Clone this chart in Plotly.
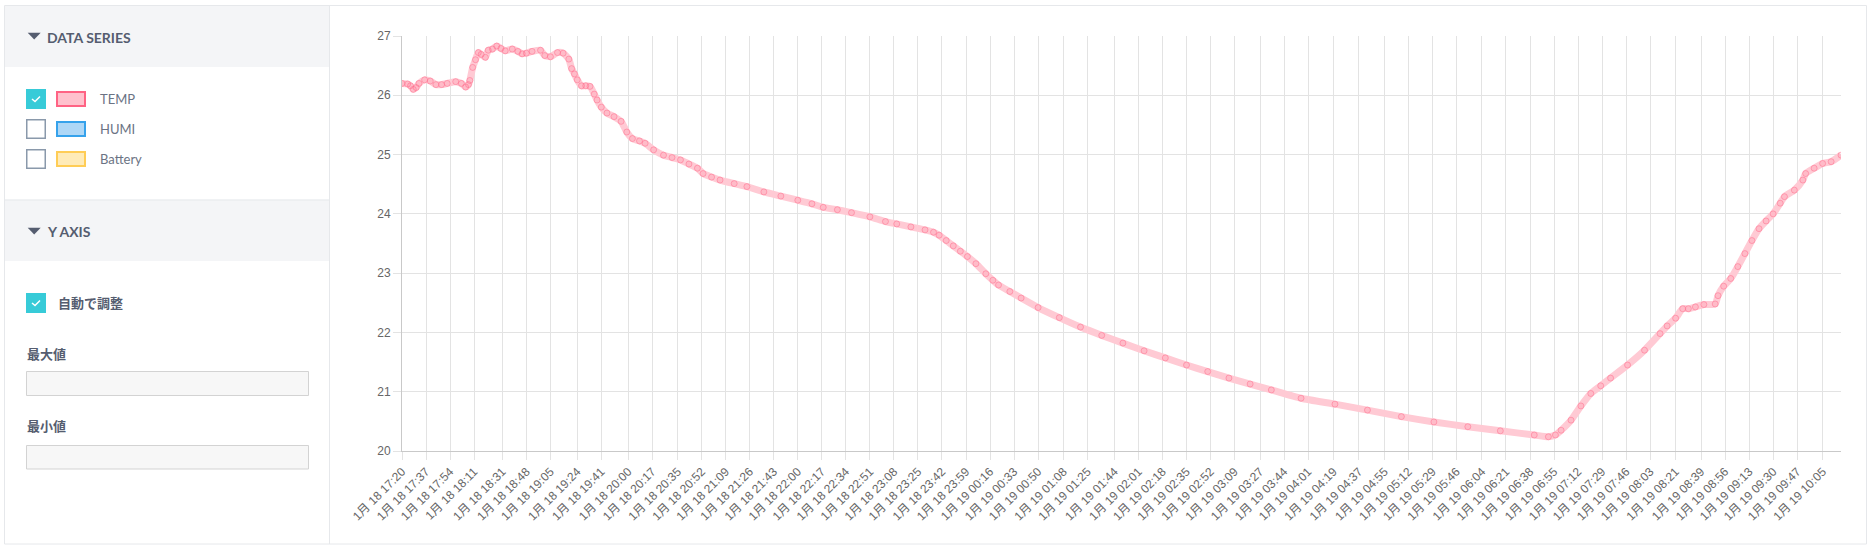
import pandas as pd
import plotly.graph_objects as go

# ---------------- data ----------------
TIMES = [
    "2024-01-18 17:20", "2024-01-18 17:24", "2024-01-18 17:26", "2024-01-18 17:28", "2024-01-18 17:30",
    "2024-01-18 17:32", "2024-01-18 17:36", "2024-01-18 17:40", "2024-01-18 17:44", "2024-01-18 17:48",
    "2024-01-18 17:52", "2024-01-18 17:58", "2024-01-18 18:02", "2024-01-18 18:05", "2024-01-18 18:07",
    "2024-01-18 18:08", "2024-01-18 18:10", "2024-01-18 18:12", "2024-01-18 18:14", "2024-01-18 18:16",
    "2024-01-18 18:19", "2024-01-18 18:21", "2024-01-18 18:24", "2024-01-18 18:27", "2024-01-18 18:30",
    "2024-01-18 18:33", "2024-01-18 18:38", "2024-01-18 18:42", "2024-01-18 18:45", "2024-01-18 18:48",
    "2024-01-18 18:52", "2024-01-18 18:58", "2024-01-18 19:01", "2024-01-18 19:05", "2024-01-18 19:10",
    "2024-01-18 19:14", "2024-01-18 19:18", "2024-01-18 19:20", "2024-01-18 19:22", "2024-01-18 19:24",
    "2024-01-18 19:27", "2024-01-18 19:30", "2024-01-18 19:33", "2024-01-18 19:36", "2024-01-18 19:38",
    "2024-01-18 19:41", "2024-01-18 19:45", "2024-01-18 19:50", "2024-01-18 19:55", "2024-01-18 19:59",
    "2024-01-18 20:03", "2024-01-18 20:08", "2024-01-18 20:12", "2024-01-18 20:18", "2024-01-18 20:25",
    "2024-01-18 20:31", "2024-01-18 20:37", "2024-01-18 20:43", "2024-01-18 20:49", "2024-01-18 20:53",
    "2024-01-18 20:59", "2024-01-18 21:05", "2024-01-18 21:15", "2024-01-18 21:24", "2024-01-18 21:36",
    "2024-01-18 21:48", "2024-01-18 22:00", "2024-01-18 22:10", "2024-01-18 22:18", "2024-01-18 22:28",
    "2024-01-18 22:38", "2024-01-18 22:51", "2024-01-18 23:02", "2024-01-18 23:10", "2024-01-18 23:20",
    "2024-01-18 23:30", "2024-01-18 23:36", "2024-01-18 23:40", "2024-01-18 23:45", "2024-01-18 23:50",
    "2024-01-18 23:55", "2024-01-19 00:00", "2024-01-19 00:06", "2024-01-19 00:13", "2024-01-19 00:18",
    "2024-01-19 00:22", "2024-01-19 00:30", "2024-01-19 00:38", "2024-01-19 00:50", "2024-01-19 01:05",
    "2024-01-19 01:20", "2024-01-19 01:35", "2024-01-19 01:50", "2024-01-19 02:05", "2024-01-19 02:20",
    "2024-01-19 02:35", "2024-01-19 02:50", "2024-01-19 03:05", "2024-01-19 03:20", "2024-01-19 03:35",
    "2024-01-19 03:56", "2024-01-19 04:20", "2024-01-19 04:43", "2024-01-19 05:07", "2024-01-19 05:30",
    "2024-01-19 05:54", "2024-01-19 06:17", "2024-01-19 06:41", "2024-01-19 06:51", "2024-01-19 06:56",
    "2024-01-19 07:00", "2024-01-19 07:07", "2024-01-19 07:14", "2024-01-19 07:21", "2024-01-19 07:28",
    "2024-01-19 07:35", "2024-01-19 07:47", "2024-01-19 07:59", "2024-01-19 08:10", "2024-01-19 08:15",
    "2024-01-19 08:21", "2024-01-19 08:26", "2024-01-19 08:30", "2024-01-19 08:35", "2024-01-19 08:41",
    "2024-01-19 08:49", "2024-01-19 08:51", "2024-01-19 08:55", "2024-01-19 09:00", "2024-01-19 09:05",
    "2024-01-19 09:10", "2024-01-19 09:15", "2024-01-19 09:20", "2024-01-19 09:25", "2024-01-19 09:30",
    "2024-01-19 09:35", "2024-01-19 09:38", "2024-01-19 09:45", "2024-01-19 09:51", "2024-01-19 09:53",
    "2024-01-19 09:59", "2024-01-19 10:05", "2024-01-19 10:11", "2024-01-19 10:18",
]
TEMP = [
    26.20, 26.19, 26.16, 26.10, 26.13,
    26.20, 26.26, 26.24, 26.18, 26.18,
    26.20, 26.23, 26.20, 26.14, 26.18,
    26.25, 26.47, 26.60, 26.72, 26.69,
    26.64, 26.76, 26.78, 26.83, 26.79,
    26.75, 26.78, 26.74, 26.70, 26.71,
    26.74, 26.76, 26.67, 26.65, 26.72,
    26.71, 26.61, 26.45, 26.36, 26.26,
    26.16, 26.16, 26.15, 26.02, 25.92,
    25.80, 25.70, 25.64, 25.56, 25.38,
    25.27, 25.23, 25.19, 25.08, 24.99,
    24.95, 24.91, 24.84, 24.77, 24.68,
    24.62, 24.57, 24.51, 24.46, 24.37,
    24.30, 24.23, 24.17, 24.11, 24.07,
    24.02, 23.95, 23.87, 23.83, 23.78,
    23.73, 23.69, 23.64, 23.55, 23.46,
    23.37, 23.28, 23.16, 22.99, 22.88,
    22.80, 22.69, 22.58, 22.42, 22.25,
    22.09, 21.95, 21.82, 21.69, 21.57,
    21.45, 21.34, 21.23, 21.13, 21.03,
    20.89, 20.79, 20.69, 20.58, 20.49,
    20.41, 20.34, 20.27, 20.24, 20.27,
    20.35, 20.52, 20.76, 20.97, 21.10,
    21.23, 21.45, 21.70, 21.98, 22.11,
    22.24, 22.40, 22.40, 22.43, 22.47,
    22.48, 22.62, 22.78, 22.91, 23.11,
    23.33, 23.55, 23.75, 23.88, 24.00,
    24.18, 24.29, 24.40, 24.57, 24.68,
    24.77, 24.85, 24.88, 24.99,
]
TICK_TIMES = [
    "2024-01-18 17:20", "2024-01-18 17:37", "2024-01-18 17:54", "2024-01-18 18:11", "2024-01-18 18:31",
    "2024-01-18 18:48", "2024-01-18 19:05", "2024-01-18 19:24", "2024-01-18 19:41", "2024-01-18 20:00",
    "2024-01-18 20:17", "2024-01-18 20:35", "2024-01-18 20:52", "2024-01-18 21:09", "2024-01-18 21:26",
    "2024-01-18 21:43", "2024-01-18 22:00", "2024-01-18 22:17", "2024-01-18 22:34", "2024-01-18 22:51",
    "2024-01-18 23:08", "2024-01-18 23:25", "2024-01-18 23:42", "2024-01-18 23:59", "2024-01-19 00:16",
    "2024-01-19 00:33", "2024-01-19 00:50", "2024-01-19 01:08", "2024-01-19 01:25", "2024-01-19 01:44",
    "2024-01-19 02:01", "2024-01-19 02:18", "2024-01-19 02:35", "2024-01-19 02:52", "2024-01-19 03:09",
    "2024-01-19 03:27", "2024-01-19 03:44", "2024-01-19 04:01", "2024-01-19 04:19", "2024-01-19 04:37",
    "2024-01-19 04:55", "2024-01-19 05:12", "2024-01-19 05:29", "2024-01-19 05:46", "2024-01-19 06:04",
    "2024-01-19 06:21", "2024-01-19 06:38", "2024-01-19 06:55", "2024-01-19 07:12", "2024-01-19 07:29",
    "2024-01-19 07:46", "2024-01-19 08:03", "2024-01-19 08:21", "2024-01-19 08:39", "2024-01-19 08:56",
    "2024-01-19 09:13", "2024-01-19 09:30", "2024-01-19 09:47", "2024-01-19 10:05",
]
Y_TICKS = [20, 21, 22, 23, 24, 25, 26, 27]
SERIES_NAMES = ["TEMP", "HUMI", "Battery"]
SERIES_BORDER = ["#ff6384", "#36a2eb", "#ffcd56"]
SERIES_FILL = ["#ffc1cd", "#aed7f6", "#ffebb8"]
SERIES_CHECKED = [True, False, False]

tick_dt = pd.to_datetime(TICK_TIMES)
TICK_TEXT = [f"{d.month}月 {d.day} {d:%H:%M}" for d in tick_dt]

# ---------------- geometry ----------------
W, H = 1875, 552
L, T, PW, PH = 402, 36, 1439, 415
R, B = W - L - PW, H - T - PH


def px(x):
    return (x - L) / PW


def py(y):
    return 1 - (y - T) / PH


fig = go.Figure()

# band of overlapping points
fig.add_trace(go.Scatter(
    x=TIMES, y=TEMP, mode="lines",
    line=dict(color="#ffcad4", width=7, shape="spline", smoothing=0.6),
    hoverinfo="skip", showlegend=False,
))
fig.add_trace(go.Scatter(
    x=TIMES, y=TEMP, mode="markers", name="TEMP",
    marker=dict(size=6, color="rgba(255,99,132,0.15)",
                line=dict(color="rgba(255,99,132,0.45)", width=1)),
    showlegend=False,
))

grid = "#e3e3e3"
axis_line = "#c9c9c9"
tick_font = dict(family="Liberation Sans, Arial, 'Noto Sans CJK JP', sans-serif", size=12, color="#666666")

fig.update_xaxes(
    type="date",
    range=[TIMES[0], TIMES[-1]],
    tickvals=TICK_TIMES, ticktext=TICK_TEXT, tickangle=-45,
    showgrid=True, gridcolor=grid, gridwidth=1,
    ticks="outside", ticklen=8, tickcolor=grid,
    showline=True, linecolor=axis_line, linewidth=1,
    tickfont=tick_font, zeroline=False, fixedrange=True,
)
fig.update_yaxes(
    range=[20, 27], tickvals=Y_TICKS,
    showgrid=True, gridcolor=grid, gridwidth=1,
    ticks="outside", ticklen=8, tickcolor=grid,
    showline=True, linecolor=axis_line, linewidth=1,
    tickfont=tick_font, zeroline=False, fixedrange=True,
)

shapes = []
annos = []


def rect(x0, y0, x1, y1, fill=None, line=None, lw=1, layer="below"):
    shapes.append(dict(type="rect", xref="paper", yref="paper",
                       x0=px(x0), x1=px(x1), y0=py(y0), y1=py(y1),
                       fillcolor=fill if fill else "rgba(0,0,0,0)",
                       line=dict(color=line if line else "rgba(0,0,0,0)", width=lw if line else 0),
                       layer=layer))


def path(points, fill=None, line=None, lw=1, closed=False, layer="above"):
    d = "M " + " L ".join(f"{px(x)},{py(y)}" for x, y in points)
    if closed:
        d += " Z"
    shapes.append(dict(type="path", xref="paper", yref="paper", path=d,
                       fillcolor=fill if fill else "rgba(0,0,0,0)",
                       line=dict(color=line if line else "rgba(0,0,0,0)", width=lw if line else 0),
                       layer=layer))


def text(x, y, s, size=13, color="#6b7384", bold=False, family="Lato, 'Noto Sans CJK JP', sans-serif"):
    annos.append(dict(xref="paper", yref="paper", x=px(x), y=py(y), text=f"<b>{s}</b>" if bold else s,
                      showarrow=False, xanchor="left", yanchor="middle",
                      font=dict(size=size, color=color, family=family)))


# outer card + sidebar
rect(4.5, 5.5, 1866.5, 544, fill="#ffffff", line="#e6e8eb")
rect(5, 6, 329, 67, fill="#f4f5f7")
rect(5, 200.5, 329, 261, fill="#f4f5f7")
path([(5, 200), (329, 200)], line="#e1e4e8", lw=1, layer="below")
path([(329.5, 6), (329.5, 544)], line="#e6e8eb", lw=1, layer="below")

head_col = "#555d70"
path([(27.7, 32.8), (40.7, 32.8), (34.2, 39.5)], fill=head_col, closed=True)
text(45, 37.5, "DATA SERIES", size=14, color=head_col, bold=True)
path([(27.7, 227.8), (40.7, 227.8), (34.2, 234.5)], fill=head_col, closed=True)
text(45, 231.5, "Y AXIS", size=14, color=head_col, bold=True)

teal = "#37cbd8"
for i, (nm, bc, fc, chk) in enumerate(zip(SERIES_NAMES, SERIES_BORDER, SERIES_FILL, SERIES_CHECKED)):
    cy = 99 + 30 * i
    if chk:
        rect(26, cy - 10, 46, cy + 10, fill=teal)
        path([(32, cy), (35, cy + 2.5), (40, cy - 2.5)], line="#ffffff", lw=1.5)
    else:
        rect(26.75, cy - 9.25, 45.25, cy + 9.25, fill="#ffffff", line="#8a99ab", lw=1.5)
    rect(57, cy - 7, 85, cy + 7, fill=fc, line=bc, lw=2)
    text(98, cy, nm, size=13, color="#6b7384")

rect(26, 293, 46, 313, fill=teal)
path([(32, 303), (35, 305.5), (40, 300.5)], line="#ffffff", lw=1.5)
text(56, 303, "自動で調整", size=13, color=head_col, bold=True)

text(25, 353.5, "最大値", size=13, color=head_col, bold=True)
rect(26.5, 371.5, 308.5, 395.5, fill="#f7f7f7", line="#d3d3d3")
text(25, 426, "最小値", size=13, color=head_col, bold=True)
rect(26.5, 445.5, 308.5, 469, fill="#f7f7f7", line="#d3d3d3")

fig.update_layout(
    width=W, height=H,
    margin=dict(l=L, r=R, t=T, b=B),
    paper_bgcolor="#ffffff", plot_bgcolor="rgba(0,0,0,0)",
    shapes=shapes, annotations=annos,
    showlegend=False, hovermode="closest",
)

fig.write_html("out.html", config={"displayModeBar": False},
               post_script="document.body.style.margin='0';document.body.style.overflow='hidden';")
